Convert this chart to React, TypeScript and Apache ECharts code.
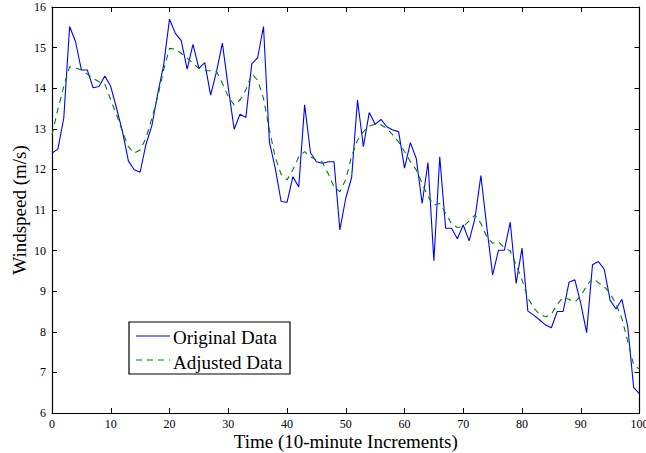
import React, { useEffect, useRef } from "react";
import * as echarts from "echarts";

const TIME_STEPS: number[] = Array.from({ length: 101 }, (_, i) => i);

const ORIGINAL_DATA: number[] = [
  12.40, 12.50, 13.26, 15.52, 15.15, 14.45, 14.45, 14.01, 14.04, 14.30,
  14.04, 13.50, 12.93, 12.21, 11.99, 11.93, 12.62, 13.08, 13.87, 14.57,
  15.70, 15.35, 15.17, 14.47, 15.08, 14.49, 14.63, 13.83, 14.41, 15.11,
  14.02, 12.99, 13.36, 13.28, 14.60, 14.75, 15.52, 12.68, 12.03, 11.21,
  11.19, 11.82, 11.57, 13.59, 12.41, 12.19, 12.15, 12.19, 12.19, 10.51,
  11.29, 11.80, 13.71, 12.56, 13.40, 13.11, 13.23, 13.05, 12.97, 12.93,
  12.03, 12.66, 12.27, 11.16, 12.17, 9.75, 12.31, 10.55, 10.55, 10.29,
  10.63, 10.24, 10.80, 11.85, 10.59, 9.40, 10.01, 10.01, 10.70, 9.19,
  10.06, 8.51, 8.41, 8.29, 8.17, 8.10, 8.50, 8.50, 9.22, 9.28,
  8.70, 7.98, 9.65, 9.73, 9.54, 8.78, 8.56, 8.80, 8.13, 6.63,
  6.47,
];

const ADJUSTED_DATA: number[] = [
  12.85, 13.48, 14.04, 14.53, 14.50, 14.45, 14.35, 14.24, 14.16, 14.10,
  13.71, 13.34, 12.93, 12.56, 12.40, 12.48, 12.77, 13.26, 13.79, 14.45,
  14.98, 14.96, 14.86, 14.74, 14.61, 14.49, 14.43, 14.43, 14.41, 14.12,
  13.79, 13.59, 13.71, 13.96, 14.35, 14.20, 13.75, 12.98, 12.30, 11.88,
  11.74, 11.99, 12.31, 12.44, 12.31, 12.23, 12.18, 11.90, 11.57, 11.45,
  11.75, 12.33, 12.72, 12.93, 13.07, 13.11, 13.10, 13.01, 12.85, 12.68,
  12.44, 12.19, 11.99, 11.66, 11.33, 11.12, 11.16, 10.92, 10.66, 10.57,
  10.59, 10.73, 10.88, 10.67, 10.34, 10.18, 10.22, 10.07, 9.99, 9.65,
  9.28, 8.83, 8.59, 8.43, 8.37, 8.43, 8.68, 8.85, 8.80, 8.73,
  8.88, 9.13, 9.32, 9.21, 9.11, 8.95, 8.68, 8.33, 7.76, 7.18,
  7.08,
];

const SERIES_NAMES = ["Original Data", "Adjusted Data"];
const SERIES_COLORS = ["#0000ff", "#008000"];
const X_TITLE = "Time (10-minute Increments)";
const Y_TITLE = "Windspeed (m/s)";

const FONT = "'Liberation Serif', 'Times New Roman', serif";
const DASH = [6, 5];

export default function App() {
  const ref = useRef<HTMLDivElement>(null);

  useEffect(() => {
    if (!ref.current) return;
    document.body.style.margin = "0";
    document.body.style.overflow = "hidden";
    const chart = echarts.init(ref.current, undefined, { renderer: "svg" });

    const axisCommon = {
      type: "value" as const,
      axisLine: { show: true, onZero: false, lineStyle: { color: "#000", width: 1.2 } },
      axisTick: { show: true, inside: true, length: 5, lineStyle: { color: "#000", width: 1 } },
      splitLine: { show: false },
    };

    const labelStyle = {
      color: "#000",
      fontFamily: FONT,
      fontSize: 12,
    };

    // legend box drawn as graphic (box, line samples, labels)
    const LX = 129;
    const LY = 322;
    const legendGraphic = [
      {
        type: "rect",
        z: 100,
        shape: { x: LX, y: LY, width: 161, height: 52 },
        style: { fill: "#fff", stroke: "#000", lineWidth: 1.2 },
      },
      {
        type: "line",
        z: 101,
        shape: { x1: LX + 7, y1: LY + 14, x2: LX + 41, y2: LY + 14 },
        style: { stroke: SERIES_COLORS[0], lineWidth: 1.2 },
      },
      {
        type: "line",
        z: 101,
        shape: { x1: LX + 7, y1: LY + 38, x2: LX + 41, y2: LY + 38 },
        style: { stroke: SERIES_COLORS[1], lineWidth: 1.2, lineDash: DASH },
      },
      {
        type: "text",
        z: 101,
        x: LX + 44,
        y: LY + 15,
        style: {
          text: SERIES_NAMES[0],
          fill: "#000",
          fontFamily: FONT,
          fontSize: 19,
          verticalAlign: "middle",
          align: "left",
        },
      },
      {
        type: "text",
        z: 101,
        x: LX + 44,
        y: LY + 40,
        style: {
          text: SERIES_NAMES[1],
          fill: "#000",
          fontFamily: FONT,
          fontSize: 19,
          verticalAlign: "middle",
          align: "left",
        },
      },
    ];

    chart.setOption({
      animation: false,
      backgroundColor: "#fff",
      color: SERIES_COLORS,
      grid: {
        left: 52,
        right: 6.5,
        top: 7,
        bottom: 40,
        containLabel: false,
        outerBoundsMode: "none",
      },
      graphic: legendGraphic,
      xAxis: [
        {
          ...axisCommon,
          position: "bottom",
          min: 0,
          max: 100,
          interval: 10,
          axisLabel: { ...labelStyle, margin: 5 },
          name: X_TITLE,
          nameLocation: "middle",
          nameGap: 19,
          nameMoveOverlap: false,
          nameTextStyle: { color: "#000", fontFamily: FONT, fontSize: 19 },
        },
        {
          ...axisCommon,
          position: "top",
          min: 0,
          max: 100,
          interval: 10,
          axisLabel: { show: false },
        },
      ],
      yAxis: [
        {
          ...axisCommon,
          position: "left",
          min: 6,
          max: 16,
          interval: 1,
          axisLabel: { ...labelStyle, margin: 6 },
          name: Y_TITLE,
          nameLocation: "middle",
          nameGap: 23,
          nameMoveOverlap: false,
          nameTextStyle: { color: "#000", fontFamily: FONT, fontSize: 19 },
        },
        {
          ...axisCommon,
          position: "right",
          min: 6,
          max: 16,
          interval: 1,
          axisLabel: { show: false },
        },
      ],
      series: [
        {
          name: SERIES_NAMES[0],
          type: "line",
          xAxisIndex: 0,
          yAxisIndex: 0,
          symbol: "none",
          data: TIME_STEPS.map((t, i) => [t, ORIGINAL_DATA[i]]),
          lineStyle: { color: SERIES_COLORS[0], width: 1.1 },
          itemStyle: { color: SERIES_COLORS[0] },
        },
        {
          name: SERIES_NAMES[1],
          type: "line",
          xAxisIndex: 0,
          yAxisIndex: 0,
          symbol: "none",
          data: TIME_STEPS.map((t, i) => [t, ADJUSTED_DATA[i]]),
          lineStyle: { color: SERIES_COLORS[1], width: 1.1, type: DASH },
          itemStyle: { color: SERIES_COLORS[1] },
        },
      ],
    });

    return () => chart.dispose();
  }, []);

  return (
    <div
      ref={ref}
      style={{ position: "fixed", left: 0, top: 0, width: 646, height: 453 }}
    />
  );
}
